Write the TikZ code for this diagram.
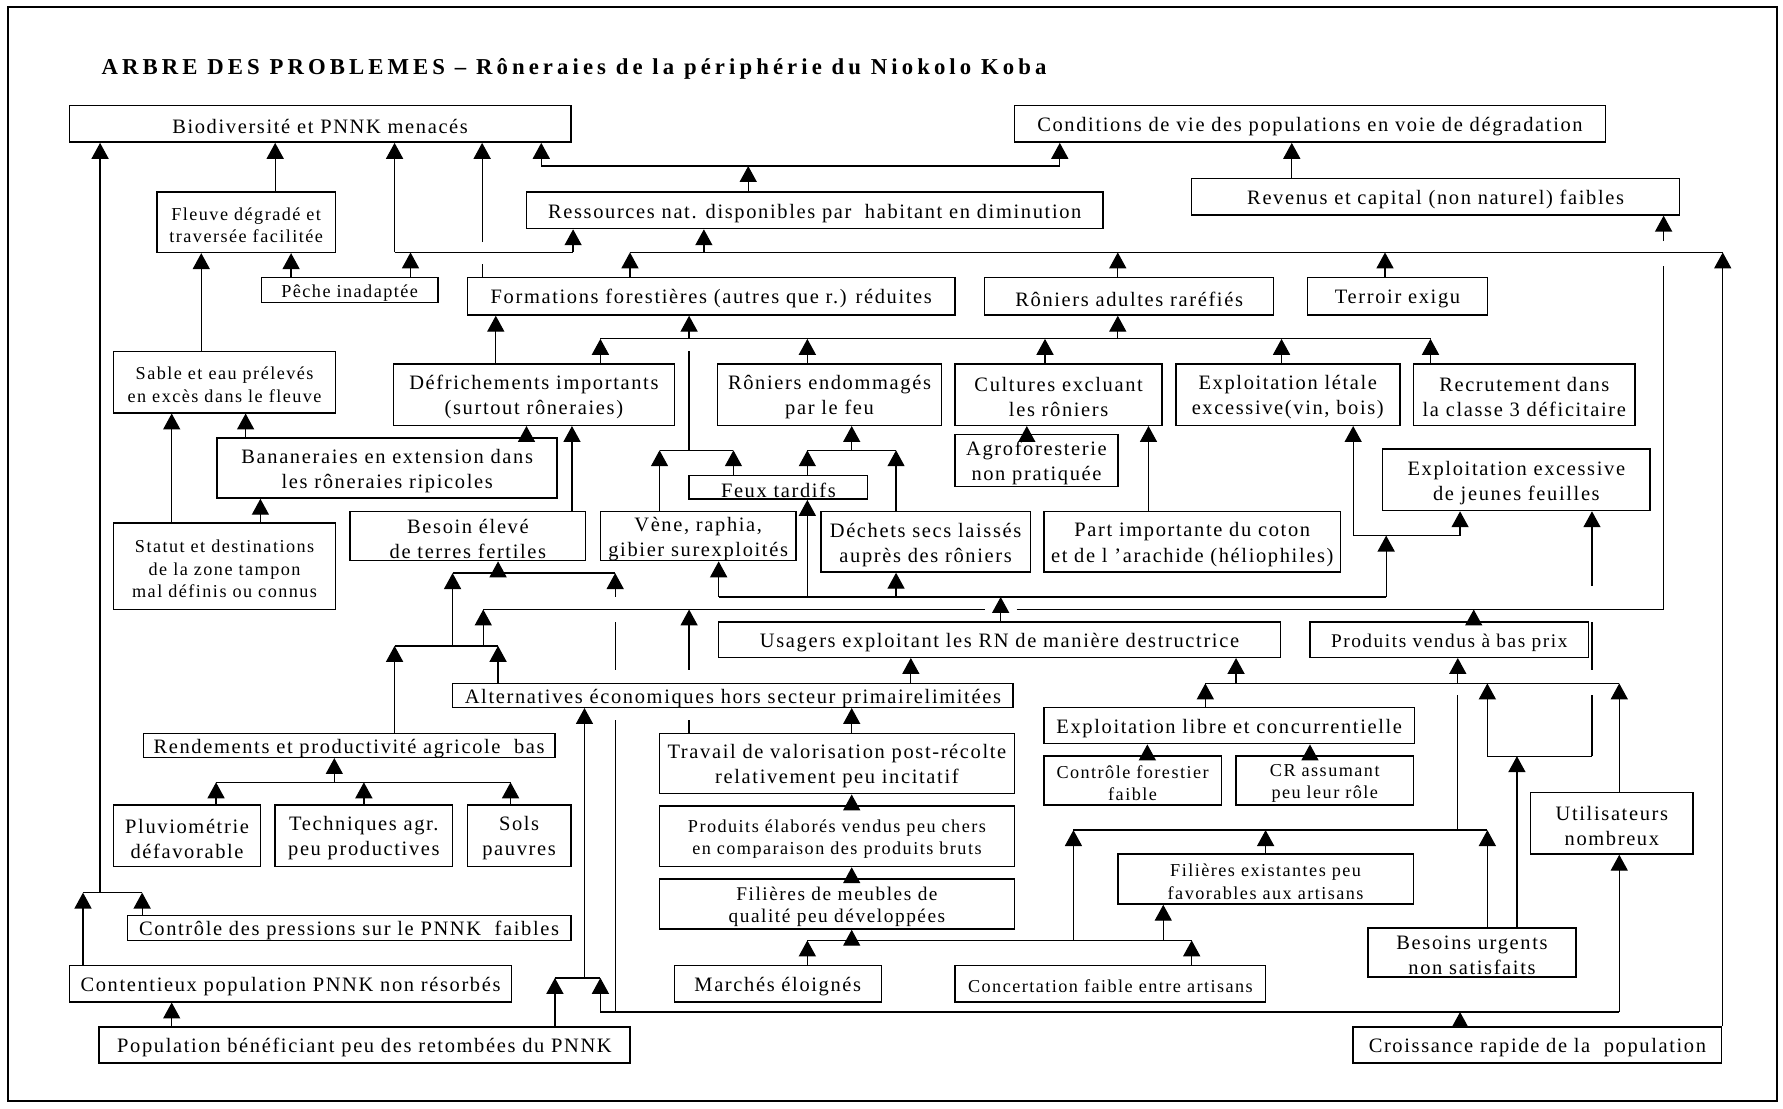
\documentclass[tikz,border=0pt]{standalone}
\usepackage{fontspec}
\setmainfont{Liberation Serif}[LetterSpace=8]
\newfontfamily\titlefont{Liberation Serif}[LetterSpace=18]
\usetikzlibrary{arrows.meta}
\tikzset{
  box/.style={draw, line width=0.65pt, inner sep=0pt},
  btxt/.style={inner sep=0pt, align=center, font=\fontsize{9}{11}\selectfont},
  sm/.style={font=\fontsize{8}{9.8}\selectfont},
  md/.style={font=\fontsize{8.5}{10}\selectfont},
  arr/.style={line width=0.55pt, -{Triangle[width=7.5pt,length=7pt]}},
  ln/.style={line width=0.55pt},
}
\newcommand\bx[7]{\node[box,minimum width={(#4-#2)*0.5pt},minimum height={(#5-#3)*0.5pt}] (#1) at ({(#2+#4)/2},{(#3+#5)/2}) {};
  \node[btxt,#6] (#1-t) at ([yshift=-1.2pt]#1.center) {#7};}
\begin{document}
\begin{tikzpicture}[x=0.5pt,y=-0.5pt]
\useasboundingbox (0,0) rectangle (1568,975);
\draw[line width=1pt] (7,6) rectangle (1563,968);
\node[anchor=west, inner sep=0pt, font=\titlefont\fontsize{10}{12}\selectfont\bfseries] (title) at (89,61) {ARBRE DES PROBLEMES – Rôneraies de la périphérie du Niokolo Koba};

\bx{bio}{61}{93}{502}{125}{}{Biodiversité et PNNK menacés}
\bx{cond}{892}{93}{1412}{125}{}{Conditions de vie des populations en voie de dégradation}
\bx{fleuve}{138}{169}{295}{222}{sm}{Fleuve dégradé et\\traversée facilitée}
\bx{ress}{463}{169}{970}{201}{}{Ressources nat. disponibles par~~habitant en diminution}
\bx{rev}{1048}{157}{1477}{189}{}{Revenus et capital (non naturel) faibles}
\bx{peche}{230}{244}{385}{266}{sm}{Pêche inadaptée}
\bx{form}{411}{244}{840}{277}{}{Formations forestières (autres que r.) réduites}
\bx{radu}{866}{244}{1120}{277}{}{Rôniers adultes raréfiés}
\bx{terr}{1150}{244}{1308}{277}{}{Terroir exigu}
\bx{sable}{100}{309}{295}{363}{sm}{Sable et eau prélevés\\en excès dans le fleuve}
\bx{defr}{346}{320}{593}{374}{}{Défrichements importants\\(surtout rôneraies)}
\bx{ren}{631}{320}{828}{374}{}{Rôniers endommagés\\par le feu}
\bx{cult}{840}{320}{1022}{374}{}{Cultures excluant\\les rôniers}
\bx{letal}{1034}{320}{1231}{374}{}{Exploitation létale\\excessive(vin, bois)}
\bx{recr}{1243}{320}{1438}{374}{}{Recrutement dans\\la classe 3 déficitaire}
\bx{agro}{840}{382}{983}{428}{}{Agroforesterie\\non pratiquée}
\bx{banan}{191}{385}{490}{438}{}{Bananeraies en extension dans\\les rôneraies ripicoles}
\bx{jeunes}{1216}{395}{1451}{449}{}{Exploitation excessive\\de jeunes feuilles}
\bx{feux}{606}{418}{763}{439}{}{Feux tardifs}
\bx{besoin}{308}{450}{515}{493}{}{Besoin élevé\\de terres fertiles}
\bx{vene}{528}{450}{700}{493}{}{Vène, raphia,\\gibier surexploités}
\bx{dechets}{722}{450}{906}{503}{}{Déchets secs laissés\\auprès des rôniers}
\bx{part}{918}{450}{1179}{503}{}{Part importante du coton\\et de l~’arachide (héliophiles)}
\bx{statut}{100}{460}{295}{536}{sm}{Statut et destinations\\de la zone tampon\\mal définis ou connus}
\bx{usag}{632}{547}{1126}{578}{}{Usagers exploitant les RN de manière destructrice}
\bx{pvbp}{1152}{547}{1397}{578}{md}{Produits vendus à bas prix}
\bx{alt}{398}{601}{891}{622}{}{Alternatives économiques hors secteur primairelimitées}
\bx{libre}{918}{622}{1244}{654}{}{Exploitation libre et concurrentielle}
\bx{trav}{580}{645}{892}{698}{}{Travail de valorisation post-récolte\\relativement peu incitatif}
\bx{rdt}{126}{645}{488}{666}{}{Rendements et productivité agricole~~bas}
\bx{cfor}{918}{665}{1074}{708}{sm}{Contrôle forestier\\faible}
\bx{cr}{1087}{665}{1243}{708}{sm}{CR assumant\\peu leur rôle}
\bx{pluv}{100}{708}{229}{762}{}{Pluviométrie\\défavorable}
\bx{tech}{242}{708}{398}{762}{}{Techniques agr.\\peu productives}
\bx{sols}{411}{708}{502}{762}{}{Sols\\pauvres}
\bx{pelab}{580}{709}{892}{762}{sm}{Produits élaborés vendus peu chers\\en comparaison des produits bruts}
\bx{util}{1346}{697}{1489}{751}{}{Utilisateurs\\nombreux}
\bx{filex}{983}{751}{1243}{795}{sm}{Filières existantes peu\\favorables aux artisans}
\bx{meub}{580}{773}{892}{817}{md}{Filières de meubles de\\qualité peu développées}
\bx{cpress}{112}{805}{502}{827}{}{Contrôle des pressions sur le PNNK~~faibles}
\bx{besur}{1203}{816}{1386}{859}{}{Besoins urgents\\non satisfaits}
\bx{march}{593}{849}{775}{881}{}{Marchés éloignés}
\bx{conc}{840}{849}{1113}{881}{sm}{Concertation faible entre artisans}
\bx{cont}{61}{849}{450}{881}{}{Contentieux population PNNK non résorbés}
\bx{popb}{87}{903}{554}{935}{}{Population bénéficiant peu des retombées du PNNK}
\bx{crois}{1190}{903}{1514}{935}{}{Croissance rapide de la~~population}

% Contentieux / Controle -> Biodiversite
\draw[ln] (73,785) -- (125,785);
\draw[arr] (73,0 |- cont.north) -- (73,785);
\draw[arr] (125,0 |- cpress.north) -- (125,785);
\draw[arr] (88,785) -- (88,0 |- bio.south);
% upper left
\draw[arr] (242,0 |- fleuve.north) -- (242,0 |- bio.south);
\draw[arr] (177,0 |- sable.north) -- (177,0 |- fleuve.south);
\draw[arr] (256,0 |- peche.north) -- (256,0 |- fleuve.south);
\draw[ln] (347,222) -- (504,222);
\draw[arr] (361,0 |- peche.north) -- (361,222);
\draw[arr] (347,222) -- (347,0 |- bio.south);
\draw[arr] (504,222) -- (504,0 |- ress.south);
\draw[ln] (424,0 |- form.north) -- (424,232);
\draw[arr] (424,213) -- (424,0 |- bio.south);
% Ressources -> Biodiv, Conditions
\draw[ln] (476,146) -- (932,146);
\draw[arr] (658,0 |- ress.north) -- (658,146);
\draw[arr] (476,146) -- (476,0 |- bio.south);
\draw[arr] (932,146) -- (932,0 |- cond.south);
\draw[arr] (1136,0 |- rev.north) -- (1136,0 |- cond.south);
% bar 222 right
\draw[ln] (554,222) -- (1515,222);
\draw[arr] (554,0 |- form.north) -- (554,222);
\draw[arr] (619,222) -- (619,0 |- ress.south);
\draw[arr] (983,0 |- radu.north) -- (983,222);
\draw[arr] (1218,0 |- terr.north) -- (1218,222);
\draw[arr] (1515,0 |- crois.north) -- (1515,222);
\draw[ln] (1463,536) -- (1463,234);
\draw[arr] (1463,212) -- (1463,0 |- rev.south);
% Defrichements -> Formations
\draw[arr] (436,0 |- defr.north) -- (436,0 |- form.south);
% bar 298
\draw[ln] (528,298) -- (1258,298);
\foreach \x/\n in {528/defr,710/ren,919/cult,1127/letal,1258/recr}
  \draw[arr] (\x,0 |- \n.north) -- (\x,298);
\draw[arr] (983,298) -- (983,0 |- radu.south);
% bar 396 left
\draw[ln] (580,396) -- (645,396);
\draw[arr] (580,0 |- vene.north) -- (580,396);
\draw[arr] (645,0 |- feux.north) -- (645,396);
\draw[ln] (606,396) -- (606,309);
\draw[arr] (606,298) -- (606,0 |- form.south);
% bar 396 right
\draw[ln] (710,396) -- (788,396);
\draw[arr] (710,0 |- feux.north) -- (710,396);
\draw[arr] (788,0 |- dechets.north) -- (788,396);
\draw[arr] (749,396) -- (749,0 |- ren.south);
% misc
\draw[arr] (903,0 |- agro.north) -- (903,0 |- cult.south);
\draw[arr] (1010,0 |- part.north) -- (1010,0 |- cult.south);
\draw[arr] (216,0 |- banan.north) -- (216,0 |- sable.south);
\draw[arr] (151,0 |- statut.north) -- (151,0 |- sable.south);
\draw[arr] (229,0 |- statut.north) -- (229,0 |- banan.south);
\draw[arr] (463,0 |- banan.north) -- (463,0 |- defr.south);
\draw[arr] (503,0 |- besoin.north) -- (503,0 |- defr.south);
% bar 525 (Usagers)
\draw[ln] (632,525) -- (1219,525);
\draw[arr] (880,0 |- usag.north) -- (880,525);
\draw[arr] (632,525) -- (632,0 |- vene.south);
\draw[arr] (710,525) -- (710,0 |- feux.south);
\draw[arr] (788,525) -- (788,0 |- dechets.south);
\draw[arr] (1219,525) -- (1219,471);
\draw[ln] (1190,471) -- (1284,471);
\draw[arr] (1190,471) -- (1190,0 |- letal.south);
\draw[arr] (1284,471) -- (1284,0 |- jeunes.south);
% bar 536 -> Revenus
\draw[ln] (425,536) -- (866,536);
\draw[ln] (894,536) -- (1463,536);
\draw[arr] (425,568) -- (425,536);
\draw[ln] (606,0 |- trav.north) -- (606,633);
\draw[arr] (606,589) -- (606,536);
\draw[arr] (1296,0 |- pvbp.north) -- (1296,536);
% bar 568
\draw[ln] (347,568) -- (438,568);
\draw[arr] (347,0 |- rdt.north) -- (347,568);
\draw[arr] (438,0 |- alt.north) -- (438,568);
\draw[arr] (398,568) -- (398,504);
% bar 504
\draw[ln] (398,504) -- (541,504);
\draw[arr] (438,504) -- (438,0 |- besoin.south);
\draw[ln] (541,890) -- (541,633);
\draw[ln] (541,589) -- (541,547);
\draw[arr] (541,525) -- (541,504);
% chain in the middle
\draw[arr] (801,0 |- alt.north) -- (801,0 |- usag.south);
\draw[arr] (749,0 |- trav.north) -- (749,0 |- alt.south);
\draw[arr] (749,0 |- pelab.north) -- (749,0 |- trav.south);
\draw[arr] (749,0 |- meub.north) -- (749,0 |- pelab.south);
% bar 827
\draw[ln] (710,827) -- (1048,827);
\draw[arr] (710,0 |- march.north) -- (710,827);
\draw[arr] (1048,0 |- conc.north) -- (1048,827);
\draw[arr] (749,827) -- (749,0 |- meub.south);
\draw[arr] (1023,827) -- (1023,0 |- filex.south);
\draw[arr] (944,827) -- (944,730);
% bar 730
\draw[ln] (944,730) -- (1308,730);
\draw[arr] (1113,0 |- filex.north) -- (1113,730);
\draw[arr] (1308,0 |- besur.north) -- (1308,730);
\draw[ln] (1282,730) -- (1282,611);
% bar 601
\draw[ln] (1060,601) -- (1424,601);
\draw[arr] (1060,0 |- libre.north) -- (1060,601);
\draw[arr] (1087,601) -- (1087,0 |- usag.south);
\draw[arr] (1282,601) -- (1282,0 |- pvbp.south);
\draw[arr] (1308,665) -- (1308,601);
\draw[arr] (1424,0 |- util.north) -- (1424,601);
% U from Besoins urgents
\draw[ln] (1308,665) -- (1400,665);
\draw[arr] (1334,0 |- besur.north) -- (1334,665);
\draw[ln] (1400,665) -- (1400,611);
\draw[ln] (1400,589) -- (1400,547);
\draw[arr] (1400,515) -- (1400,0 |- jeunes.south);
\draw[arr] (1009,0 |- cfor.north) -- (1009,0 |- libre.south);
\draw[arr] (1152,0 |- cr.north) -- (1152,0 |- libre.south);
% bar 890 (Croissance)
\draw[ln] (528,890) -- (1424,890);
\draw[arr] (1284,0 |- crois.north) -- (1284,890);
\draw[arr] (1424,890) -- (1424,0 |- util.south);
\draw[arr] (528,890) -- (528,860);
% bar 860
\draw[ln] (488,860) -- (528,860);
\draw[arr] (488,0 |- popb.north) -- (488,860);
\draw[arr] (514,860) -- (514,0 |- alt.south);
\draw[arr] (151,0 |- popb.north) -- (151,0 |- cont.south);
% Rendements
\draw[ln] (190,688) -- (449,688);
\foreach \x/\n in {190/pluv,320/tech,449/sols}
  \draw[arr] (\x,0 |- \n.north) -- (\x,688);
\draw[arr] (294,688) -- (294,0 |- rdt.south);
\end{tikzpicture}
\end{document}
